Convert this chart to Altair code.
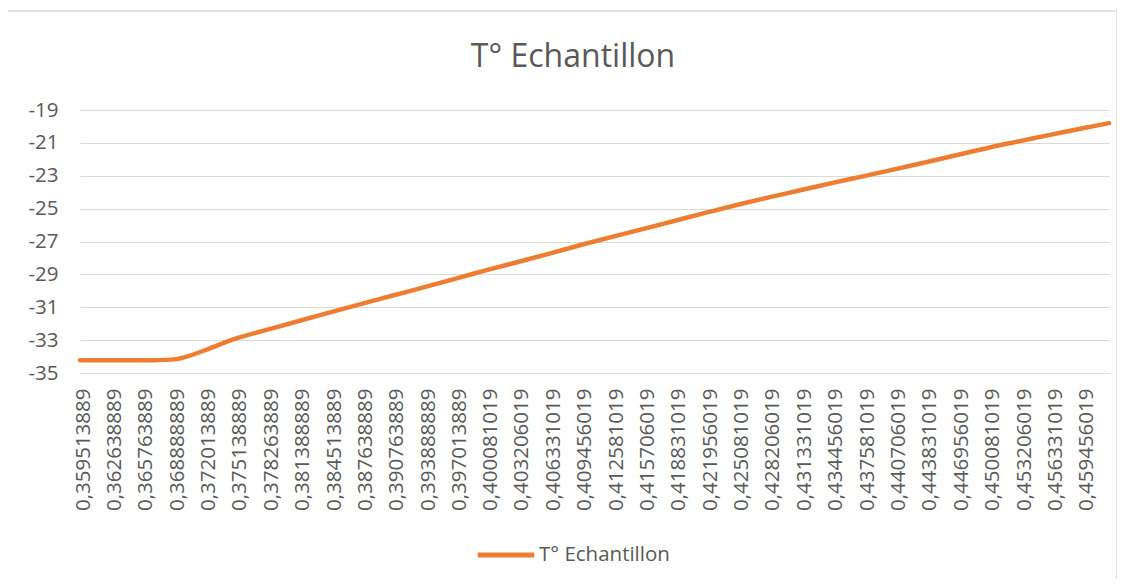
import altair as alt
import pandas as pd

# X tick labels (time as fraction of a day) shown on the category axis
time_labels = [0.359513889, 0.362638889, 0.365763889, 0.368888889, 0.372013889,
               0.375138889, 0.378263889, 0.381388889, 0.384513889, 0.387638889,
               0.390763889, 0.393888889, 0.397013889, 0.400081019, 0.403206019,
               0.406331019, 0.409456019, 0.412581019, 0.415706019, 0.418831019,
               0.421956019, 0.425081019, 0.428206019, 0.431331019, 0.434456019,
               0.437581019, 0.440706019, 0.443831019, 0.446956019, 0.450081019,
               0.453206019, 0.456331019, 0.459456019]

# Sample times (label positions, one point in the bend, last sample)
sample_times = time_labels + [0.370451389, 0.461956019]
# Temperatures at those times
sample_temps = [-34.22, -34.22, -34.22, -34.17, -33.60,
                -32.88, -32.35, -31.82, -31.30, -30.78,
                -30.27, -29.76, -29.24, -28.73, -28.23,
                -27.72, -27.20, -26.70, -26.22, -25.72,
                -25.23, -24.75, -24.30, -23.87, -23.43,
                -23.02, -22.60, -22.16, -21.72, -21.28,
                -20.88, -20.48, -20.10,
                -33.94, -19.80]

y_ticks = [-35, -33, -31, -29, -27, -25, -23, -21, -19]
series_name = "T° Echantillon"
chart_title = "T° Echantillon"

df = pd.DataFrame({"t": sample_times, "v": sample_temps, "s": series_name}).sort_values("t")

FONT = "Open Sans"
GREY = "#595959"
ORANGE = "#ED7D31"

line = alt.Chart(df).mark_line(
    strokeWidth=4.5, strokeCap="round", strokeJoin="round", interpolate="catmull-rom"
).encode(
    x=alt.X("t:Q",
            scale=alt.Scale(domain=[time_labels[0], sample_times[-1]], nice=False, zero=False),
            axis=alt.Axis(values=time_labels, title=None, grid=False, ticks=False,
                          labelAngle=-90, labelFontSize=20.5, labelFont=FONT, labelColor=GREY,
                          labelPadding=15, labelOverlap=False, labelFlush=False,
                          labelOffset=3,
                          domainColor="#D9D9D9", domainWidth=1,
                          labelExpr="replace(format(datum.value, '.9f'), '.', ',')")),
    y=alt.Y("v:Q",
            scale=alt.Scale(domain=[-35, -19], nice=False, zero=False),
            axis=alt.Axis(values=y_ticks, title=None, ticks=False, domain=False,
                          gridColor="#D9D9D9", gridWidth=1,
                          labelFontSize=20.5, labelFont=FONT, labelColor=GREY,
                          labelPadding=22,
                          labelExpr="(datum.value < 0 ? '-' : '') + abs(datum.value)")),
    color=alt.Color("s:N",
                    scale=alt.Scale(domain=[series_name], range=[ORANGE]),
                    legend=alt.Legend(title=None, orient="none", legendX=395, legendY=414,
                                      symbolType="stroke", symbolSize=3200,
                                      symbolStrokeWidth=5, labelFont=FONT,
                                      labelFontSize=20.5, labelColor=GREY,
                                      labelOffset=2)),
)

border = alt.Chart(pd.DataFrame({"a": [0]})).mark_rect(
    fill=None, stroke="#D9D9D9", strokeWidth=1.5, clip=False
).encode(
    x=alt.value(-73), x2=alt.value(1037), y=alt.value(-99), y2=alt.value(520)
)

title = alt.Chart(pd.DataFrame({"txt": [chart_title]})).mark_text(
    font=FONT, fontSize=32, color=GREY, align="center", baseline="alphabetic", clip=False
).encode(
    text="txt:N", x=alt.value(493), y=alt.value(-43)
)

chart = alt.layer(border, title, line).properties(
    width=1029, height=263,
    padding={"left": 72, "top": 102, "right": 8, "bottom": 206},
    autosize=alt.AutoSizeParams(type="none"),
).configure_view(stroke=None)

chart.save("out.html", embed_options={"renderer": "svg", "actions": False})
